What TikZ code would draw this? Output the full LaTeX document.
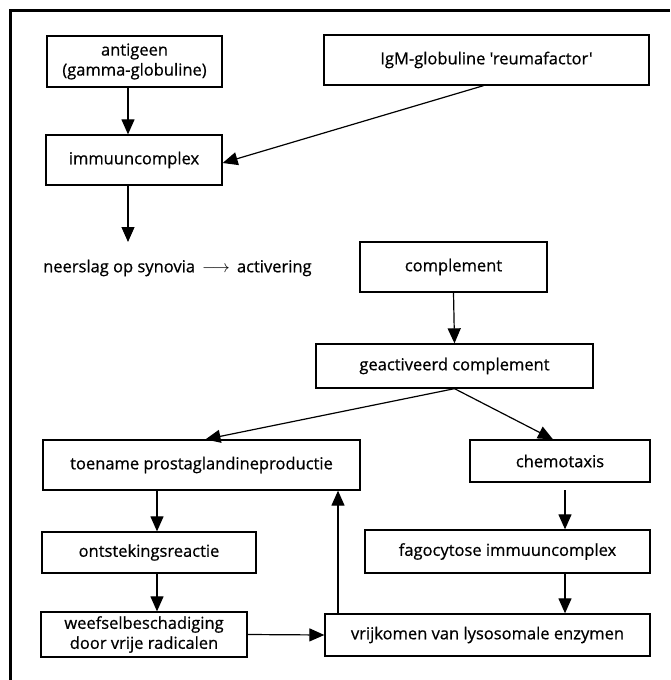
\documentclass[tikz,border=0pt]{standalone}
\usepackage{fontspec}
\setmainfont{Open Sans}[Ligatures=TeXOff, FakeBold=0.7]
\usetikzlibrary{arrows.meta}
\begin{document}
\begin{tikzpicture}[x=1pt,y=-1pt,
 box/.style={draw, line width=1.3pt, inner sep=0pt, align=center, font=\fontsize{16.5}{20}\selectfont},
 lbl/.style={inner sep=0pt, anchor=west, font=\fontsize{16.5}{20}\selectfont},
 arr/.style={line width=1.2pt, -{Triangle[length=15pt,width=13pt]}},
 ]
\useasboundingbox (0,0) rectangle (670,680);
\draw[line width=3pt] (10,680) -- (10,10) -- (670,10);

\node[box, minimum width=175pt, minimum height=51pt] (ant) at (134.5,61.5) {antigeen\\(gamma-globuline)};
\node[box, minimum width=325pt, minimum height=50pt] (igm) at (486.5,60) {IgM-globuline 'reumafactor'};
\node[box, minimum width=176pt, minimum height=50pt] (imm) at (134,160) {immuuncomplex};
\node[lbl] (neer) at (43,268) {neerslag op synovia \,$\longrightarrow$\, activering};
\node[box, minimum width=187pt, minimum height=50pt] (comp) at (453.5,267) {complement};
\node[box, minimum width=277pt, minimum height=44pt] (geac) at (454.5,366) {geactiveerd complement};
\node[box, minimum width=317pt, minimum height=50pt] (toe) at (201.5,465) {toename prostaglandineproductie};
\node[box, minimum width=180pt, minimum height=42pt] (chemo) at (560,461) {chemotaxis};
\node[box, minimum width=214pt, minimum height=41pt] (ont) at (149,552.5) {ontstekingsreactie};
\node[box, minimum width=285pt, minimum height=43pt] (fago) at (507.5,551.5) {fagocytose immuuncomplex};
\node[box, minimum width=206pt, minimum height=45pt] (weef) at (144,634.5) {weefselbeschadiging\\door vrije radicalen};
\node[box, minimum width=325pt, minimum height=42pt] (vrij) at (487.5,635) {vrijkomen van lysosomale enzymen};

\coordinate (xa) at (128,0);
\coordinate (xb) at (157,0);
\coordinate (xc) at (338,0);
\coordinate (xd) at (565,0);
\coordinate (endimm) at (128,242);
\coordinate (startchemo) at (565,490);

\draw[arr] (ant.south -| xa) -- (imm.north -| xa);
\draw[arr] ([xshift=-3pt]igm.south) -- ([yshift=-3pt]imm.east);
\draw[arr] (imm.south -| xa) -- (endimm);
\draw[arr] (comp.south) -- (geac.north);
\draw[arr] (geac.south) -- ([xshift=4pt]toe.north);
\draw[arr] (geac.south) -- ([xshift=-7pt]chemo.north);
\draw[arr] (toe.south -| xb) -- (ont.north -| xb);
\draw[arr] (ont.south -| xb) -- (weef.north -| xb);
\draw[arr] (weef.east) -- (vrij.west);
\draw[arr] (vrij.north -| xc) -- (toe.south -| xc);
\draw[arr] (startchemo) -- (fago.north -| xd);
\draw[arr] (fago.south -| xd) -- (vrij.north -| xd);
\end{tikzpicture}
\end{document}
